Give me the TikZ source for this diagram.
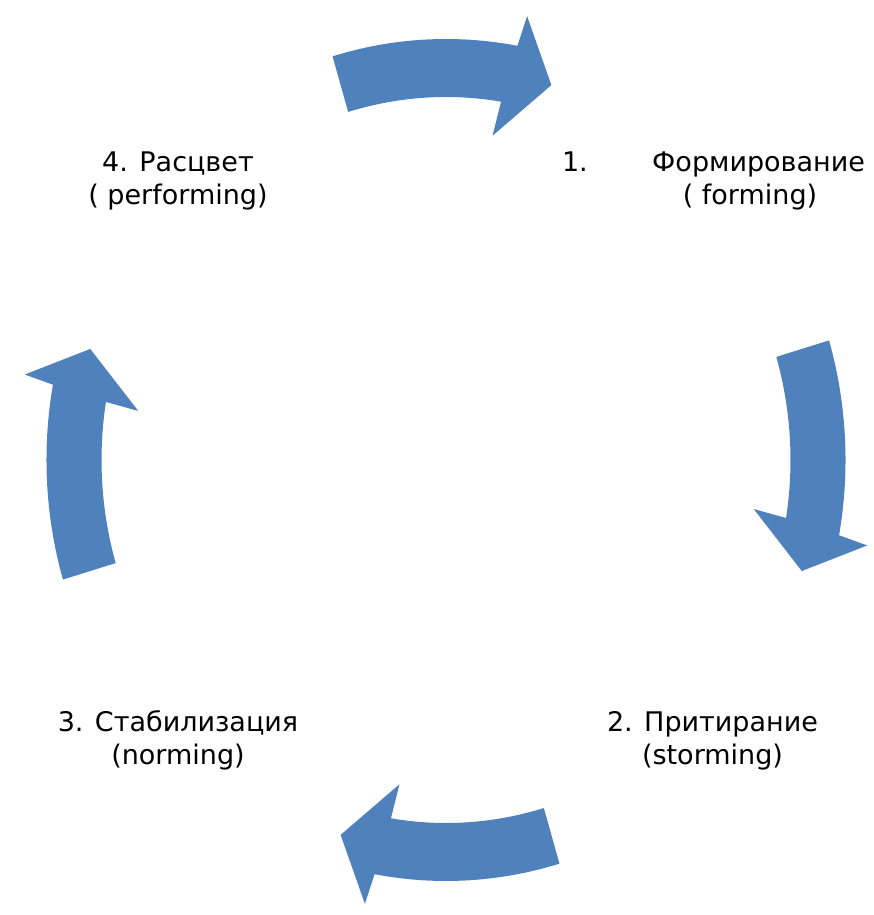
\documentclass[tikz,border=0pt]{standalone}
\usepackage{fontspec}
\setmainfont{DejaVu Sans}
\definecolor{arrowblue}{HTML}{4F81BD}
\tikzset{
  lbl/.style={align=center, font=\fontsize{27}{33.3}\selectfont, inner sep=0pt, anchor=base},
  cyc/.style={fill=arrowblue, draw=none}
}
\begin{document}
\begin{tikzpicture}[x=1pt,y=1pt]
\useasboundingbox (0,0) rectangle (874,915);
\begin{scope}[shift={(446,455)}, xscale=0.949]
\foreach \c in {90,0,270,180}{
  \fill[cyc] ({\c+16.5}:421pt) arc[start angle={\c+16.5}, end angle={\c-10.3}, radius=421pt]
    -- ({\c-10.9}:452pt) -- ({\c-16.5}:391pt) -- ({\c-8.6}:328pt) -- ({\c-9.2}:363pt)
    arc[start angle={\c-9.2}, end angle={\c+16.5}, radius=363pt] -- cycle;
}
\end{scope}
\node[lbl] (t1) at (713.5,710) {\hbox to 303pt{1.\hfill Формирование}\\\hspace*{73pt}( forming)};
\node[lbl] (t2) at (712.5,150) {2. Притирание\\(storming)};
\node[lbl] (t3) at (178,150) {3. Стабилизация\\(norming)};
\node[lbl] (t4) at (178,710) {4. Расцвет\\( performing)};
\end{tikzpicture}
\end{document}
